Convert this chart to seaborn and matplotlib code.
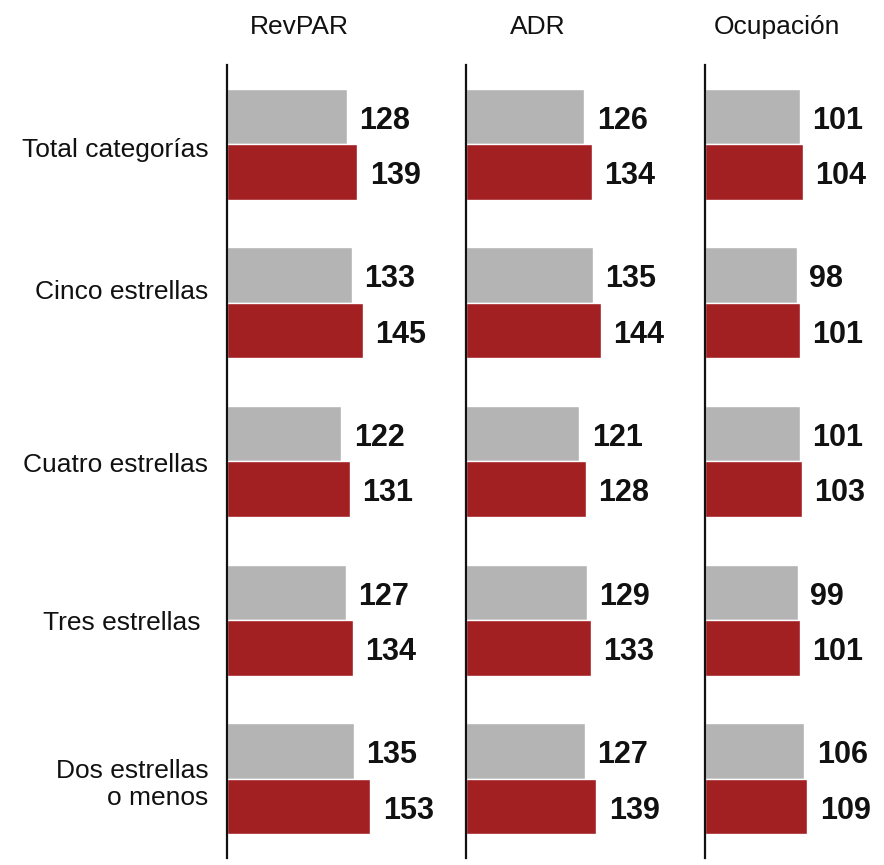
import matplotlib
matplotlib.use("Agg")
import matplotlib.pyplot as plt
import matplotlib.transforms as mtransforms
from matplotlib import font_manager as fm
import seaborn as sns
import pandas as pd

categorias = ["Total categorías", "Cinco estrellas", "Cuatro estrellas",
              "Tres estrellas ", "Dos estrellas\no menos"]
metricas = ["RevPAR", "ADR", "Ocupación"]
series = ["Anterior", "Actual"]

revpar_anterior = [128, 133, 122, 127, 135]
revpar_actual = [139, 145, 131, 134, 153]
adr_anterior = [126, 135, 121, 129, 127]
adr_actual = [134, 144, 128, 133, 139]
ocup_anterior = [101, 98, 101, 99, 106]
ocup_actual = [104, 101, 103, 101, 109]

valores = {
    "RevPAR": (revpar_anterior, revpar_actual),
    "ADR": (adr_anterior, adr_actual),
    "Ocupación": (ocup_anterior, ocup_actual),
}

colores = {"Anterior": "#b4b4b4", "Actual": "#a21f22"}

# vertical nudge (points) of each category label
desplaz_etiqueta = [-2, 10, -1, 0, -1]


def fuente(bold=False):
    """Liberation Sans (normal width) regular or bold."""
    for f in fm.fontManager.ttflist:
        fn = f.fname.lower()
        if f.name == "Liberation Sans" and "narrow" not in fn and f.style == "normal":
            if bold and f.weight in (700, "bold"):
                return fm.FontProperties(fname=f.fname)
            if not bold and f.weight in (400, "normal", "regular"):
                return fm.FontProperties(fname=f.fname)
    return fm.FontProperties(family="DejaVu Sans",
                             weight="bold" if bold else "normal")


sns.set_theme(style="white")
plt.rcParams["font.family"] = ["Liberation Sans", "DejaVu Sans"]

fp_reg = fuente(False)
fp_bold = fuente(True)

W, H = 884, 865
fig = plt.figure(figsize=(W / 100, H / 100), dpi=100)

px_por_unidad = 0.9375
ancho_px = 178
lefts_px = [227, 466, 705]
top_px, bottom_px = 65, 858

for i, (metrica, left) in enumerate(zip(metricas, lefts_px)):
    ax = fig.add_axes([left / W, (H - bottom_px) / H, ancho_px / W,
                       (bottom_px - top_px) / H])
    ant, act = valores[metrica]
    df = pd.DataFrame({
        "categoria": categorias * 2,
        "serie": [series[0]] * len(categorias) + [series[1]] * len(categorias),
        "valor": list(ant) + list(act),
    })
    sns.barplot(data=df, y="categoria", x="valor", hue="serie",
                order=categorias, hue_order=series, palette=colores,
                saturation=1, width=0.7, orient="h", edgecolor="white",
                linewidth=1, legend=False, ax=ax, errorbar=None)
    for cont in ax.containers:
        etiquetas = ax.bar_label(cont, fmt="%d", padding=9, color="#111111")
        for t in etiquetas:
            t.set_fontproperties(fp_bold)
            t.set_fontsize(22)
            t.xyann = (9, -3)
    ax.set_xlim(0, ancho_px / px_por_unidad)
    ax.set_ylim(len(categorias) - 0.5, -0.5)
    ax.set_xlabel("")
    ax.set_ylabel("")
    ax.set_xticks([])
    for s in ["top", "right", "bottom"]:
        ax.spines[s].set_visible(False)
    ax.spines["left"].set_color("#111111")
    ax.spines["left"].set_linewidth(1.6)
    if i == 0:
        ax.tick_params(axis="y", length=0, pad=13.5, labelcolor="#111111")
        for lab, dy in zip(ax.get_yticklabels(), desplaz_etiqueta):
            lab.set_fontproperties(fp_reg)
            lab.set_fontsize(19)
            lab.set_multialignment("right")
            lab.set_transform(lab.get_transform() + mtransforms.ScaledTranslation(
                0, dy / 72, fig.dpi_scale_trans))
    else:
        ax.set_yticks([])
    ax.text(72 / ancho_px, 1 + 38 / (bottom_px - top_px), metrica,
            transform=ax.transAxes, ha="center", va="center",
            fontproperties=fp_reg, fontsize=19, color="#111111")

fig.savefig("out.png", dpi=100, facecolor="white")
